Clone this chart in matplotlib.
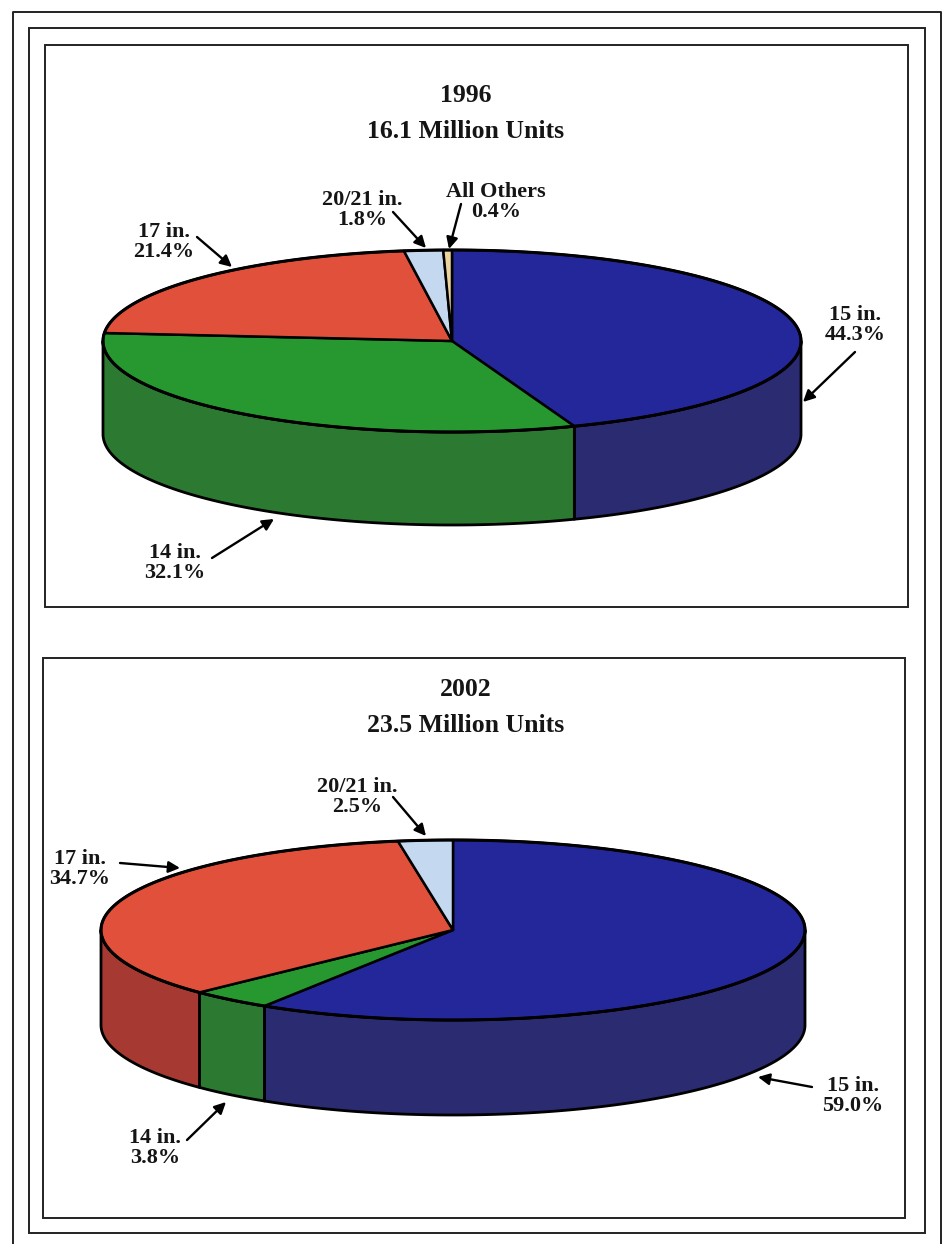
import numpy as np
import matplotlib.pyplot as plt
from matplotlib.patches import Polygon, Rectangle

# Screen size shares, 1996 and 2002
sizes = ['15 in.', '14 in.', '17 in.', '20/21 in.', 'All Others']
shares_1996 = [44.3, 32.1, 21.4, 1.8, 0.4]
shares_2002 = [59.0, 3.8, 34.7, 2.5, 0.0]
years = ['1996', '2002']
units = ['16.1 Million Units', '23.5 Million Units']

top_colors = ['#24279a', '#27972f', '#e0503a', '#c4d8ef', '#ecd3a0']
side_colors = ['#2b2b72', '#2c7a32', '#a63a33', '#a9bcd6', '#c9ac78']

plt.rcParams['font.family'] = ['Liberation Serif', 'DejaVu Serif']

fig = plt.figure(figsize=(9.45, 12.44), dpi=100)
ax = fig.add_axes([0, 0, 1, 1])
ax.set_xlim(0, 945)
ax.set_ylim(1244, 0)
ax.axis('off')

# page frames
ax.plot([13, 13, 941, 941], [1244, 12, 12, 1244], color='#222222', lw=1.4)
ax.add_patch(Rectangle((29, 28), 896, 1205, fill=False, ec='#222222', lw=1.4))
ax.add_patch(Rectangle((45, 45), 863, 562, fill=False, ec='#222222', lw=1.4))
ax.add_patch(Rectangle((43, 658), 862, 560, fill=False, ec='#222222', lw=1.4))


def arc(cx, cy, a, b, t0, t1, n=200):
    t = np.radians(np.linspace(t0, t1, n))
    return np.column_stack([cx + a * np.cos(t), cy - b * np.sin(t)])


def pie3d(cx, cy, a, b, depth, shares):
    start = 90.0
    bounds = []
    for s in shares:
        end = start - s * 3.6
        bounds.append((start, end))
        start = end
    # front walls first
    for (t0, t1), col in zip(bounds, side_colors):
        lo, hi = t1, t0
        for k in (-360, 0, 360):
            f_lo, f_hi = max(lo, -180 + k), min(hi, 0 + k)
            if f_hi - f_lo <= 0:
                continue
            top = arc(cx, cy, a, b, f_hi, f_lo)
            bot = top[::-1] + [0, depth]
            ax.add_patch(Polygon(np.vstack([top, bot]), closed=True, fc=col,
                                 ec='black', lw=2.0, joinstyle='round', zorder=2))
    # top surface
    for (t0, t1), col in zip(bounds, top_colors):
        if t0 - t1 <= 0:
            continue
        pts = np.vstack([[cx, cy], arc(cx, cy, a, b, t0, t1)])
        ax.add_patch(Polygon(pts, closed=True, fc=col, ec='black', lw=1.8,
                             joinstyle='round', zorder=3))
    ax.add_patch(Polygon(arc(cx, cy, a, b, 0, 360, 400), closed=True, fill=False,
                         ec='black', lw=2.2, zorder=4))


def title(year, total, y):
    ax.text(466, y, year, ha='center', va='center', fontsize=18.5,
            fontweight='bold', color='#151515')
    ax.text(466, y + 35, total, ha='center', va='center', fontsize=18.5,
            fontweight='bold', color='#151515')


def label(text, xy, tip, tail):
    ax.text(xy[0], xy[1], text, ha='center', va='center', fontsize=16,
            fontweight='bold', linespacing=1.0, color='#151515', zorder=5)
    ax.annotate('', xy=tip, xytext=tail,
                arrowprops=dict(arrowstyle='-|>', color='black', lw=1.7,
                                mutation_scale=17, shrinkA=0, shrinkB=0), zorder=5)


# 1996
title(years[0], units[0], 96)
pie3d(452, 341, 349, 91, 93, shares_1996)
pos_1996 = [((855, 325), (803, 402), (855, 352)),
            ((175, 563), (274, 519), (212, 558)),
            ((164, 242), (232, 267), (197, 237)),
            ((362, 210), (426, 248), (393, 212)),
            ((496, 202), (449, 249), (461, 204))]
for name, s, (xy, tip, tail) in zip(sizes, shares_1996, pos_1996):
    label(f'{name}\n{s:.1f}%', xy, tip, tail)

# 2002
title(years[1], units[1], 690)
pie3d(453, 930, 352, 90, 95, shares_2002)
pos_2002 = [((853, 1096), (758, 1077), (812, 1087)),
            ((155, 1148), (226, 1102), (187, 1140)),
            ((80, 869), (180, 868), (120, 863)),
            ((357, 797), (426, 836), (393, 797))]
for name, s, (xy, tip, tail) in zip(sizes, shares_2002, pos_2002):
    label(f'{name}\n{s:.1f}%', xy, tip, tail)

fig.savefig('out.png', dpi=100)
